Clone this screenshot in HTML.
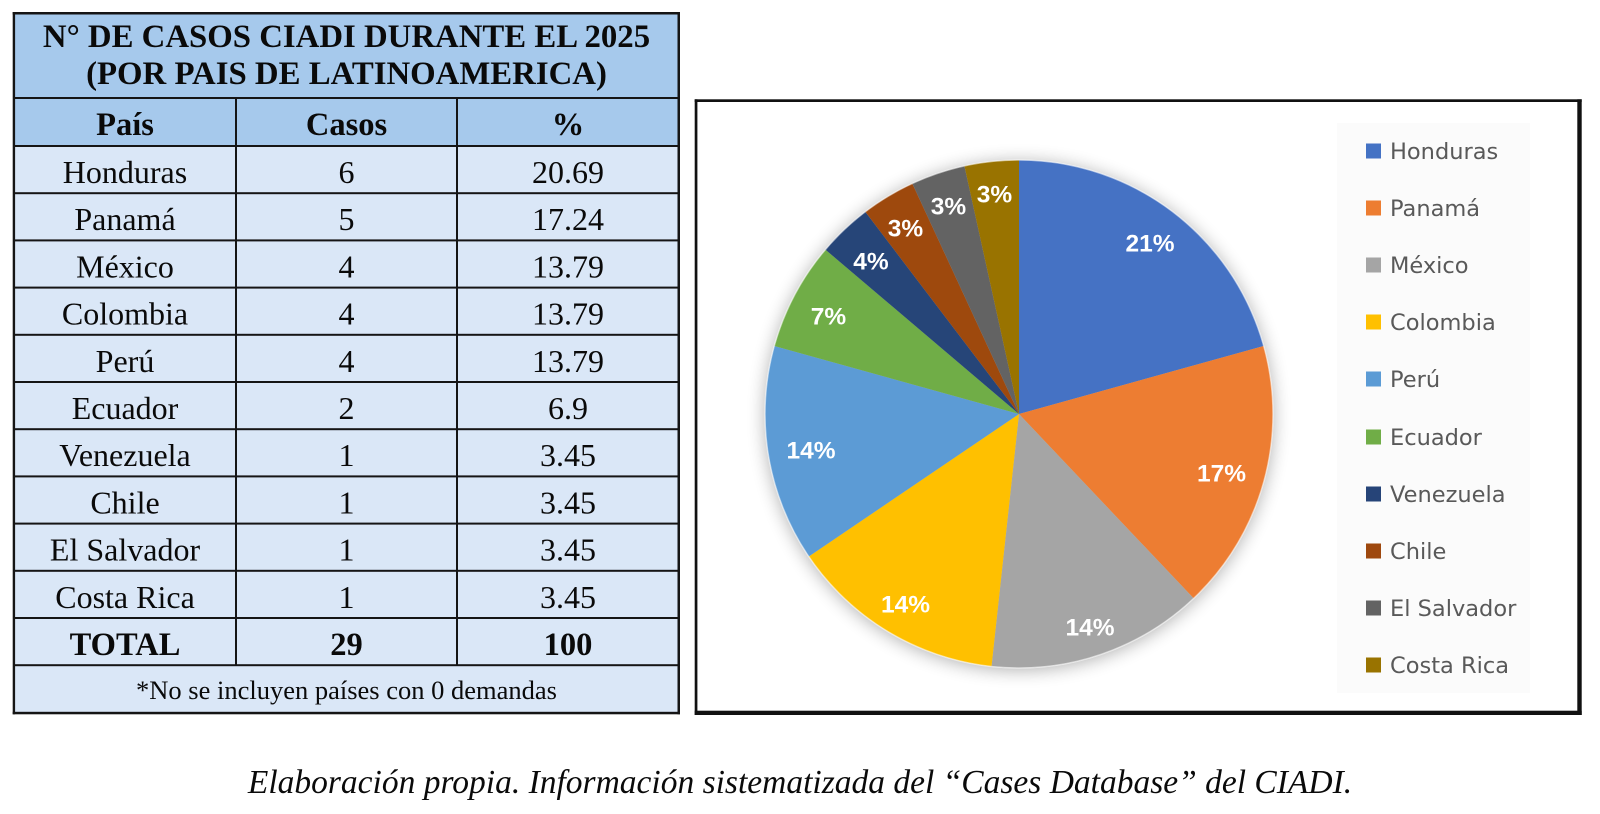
<!DOCTYPE html>
<html>
<head>
<meta charset="utf-8">
<style>
  html,body{margin:0;padding:0;background:#fff;}
  body{width:1600px;height:814px;overflow:hidden;}
  svg{display:block;}
  .serif{font-family:"Liberation Serif","Times New Roman",serif;}
  .sans{font-family:"Liberation Sans",Arial,sans-serif;}
  .leg{font-family:"DejaVu Sans","Liberation Sans",sans-serif;font-size:22.5px;fill:#595959;}
  .lbl{font-family:"Liberation Sans",Arial,sans-serif;font-weight:bold;font-size:24.5px;fill:#fff;}
</style>
</head>
<body>
<svg width="1600" height="814" viewBox="0 0 1600 814" xmlns="http://www.w3.org/2000/svg">
  <defs>
    <filter id="sh" x="-20%" y="-20%" width="140%" height="140%">
      <feGaussianBlur in="SourceAlpha" stdDeviation="9"/>
      <feOffset dx="0" dy="2" result="b"/>
      <feComponentTransfer><feFuncA type="linear" slope="0.32"/></feComponentTransfer>
      <feMerge><feMergeNode/><feMergeNode in="SourceGraphic"/></feMerge>
    </filter>
  </defs>
  <rect x="0" y="0" width="1600" height="814" fill="#fff"/>

  <!-- ===== TABLE ===== -->
  <rect x="14" y="13" width="665" height="133" fill="#A6C9EC"/>
  <rect x="14" y="146" width="665" height="567" fill="#DAE7F7"/>

  <g fill="#151515">
    <rect x="12.7" y="12" width="667.3" height="2.5"/>
    <rect x="12.7" y="12" width="2.4" height="702.3"/>
    <rect x="677.5" y="12" width="2.5" height="702.3"/>
    <rect x="12.7" y="711.8" width="667.3" height="2.5"/>
    <rect x="13" y="97" width="666" height="2"/>
    <rect x="13" y="145" width="666" height="2"/>
    <rect x="13" y="192.2" width="666" height="2"/>
    <rect x="13" y="239.4" width="666" height="2"/>
    <rect x="13" y="286.6" width="666" height="2"/>
    <rect x="13" y="333.8" width="666" height="2"/>
    <rect x="13" y="381" width="666" height="2"/>
    <rect x="13" y="428.2" width="666" height="2"/>
    <rect x="13" y="475.4" width="666" height="2"/>
    <rect x="13" y="522.6" width="666" height="2"/>
    <rect x="13" y="569.8" width="666" height="2"/>
    <rect x="13" y="617" width="666" height="2"/>
    <rect x="13" y="664.2" width="666" height="2"/>
    <rect x="235" y="98" width="2" height="567.2"/>
    <rect x="456" y="98" width="2" height="567.2"/>
  </g>

  <g class="serif" fill="#0a0a0a" text-anchor="middle">
    <text x="346.5" y="47" font-size="32.8" font-weight="bold">N° DE CASOS CIADI DURANTE EL 2025</text>
    <text x="346.5" y="84" font-size="32.8" font-weight="bold">(POR PAIS DE LATINOAMERICA)</text>

    <text x="125" y="135" font-size="32.5" font-weight="bold">País</text>
    <text x="346.5" y="135" font-size="32.5" font-weight="bold">Casos</text>
    <text x="568" y="135" font-size="32.5" font-weight="bold">%</text>

    <g font-size="32">
      <text x="125" y="183">Honduras</text><text x="346.5" y="183">6</text><text x="568" y="183">20.69</text>
      <text x="125" y="230.2">Panamá</text><text x="346.5" y="230.2">5</text><text x="568" y="230.2">17.24</text>
      <text x="125" y="277.4">México</text><text x="346.5" y="277.4">4</text><text x="568" y="277.4">13.79</text>
      <text x="125" y="324.6">Colombia</text><text x="346.5" y="324.6">4</text><text x="568" y="324.6">13.79</text>
      <text x="125" y="371.8">Perú</text><text x="346.5" y="371.8">4</text><text x="568" y="371.8">13.79</text>
      <text x="125" y="419">Ecuador</text><text x="346.5" y="419">2</text><text x="568" y="419">6.9</text>
      <text x="125" y="466.2">Venezuela</text><text x="346.5" y="466.2">1</text><text x="568" y="466.2">3.45</text>
      <text x="125" y="513.4">Chile</text><text x="346.5" y="513.4">1</text><text x="568" y="513.4">3.45</text>
      <text x="125" y="560.6">El Salvador</text><text x="346.5" y="560.6">1</text><text x="568" y="560.6">3.45</text>
      <text x="125" y="607.8">Costa Rica</text><text x="346.5" y="607.8">1</text><text x="568" y="607.8">3.45</text>
    </g>

    <text x="125" y="655" font-size="32.5" font-weight="bold">TOTAL</text>
    <text x="346.5" y="655" font-size="32.5" font-weight="bold">29</text>
    <text x="568" y="655" font-size="32.5" font-weight="bold">100</text>

    <text x="346.5" y="699" font-size="26.5">*No se incluyen países con 0 demandas</text>
  </g>

  <!-- ===== CHART FRAME ===== -->
  <g fill="#111">
    <rect x="694.7" y="99.3" width="887" height="2.7"/>
    <rect x="694.7" y="99.3" width="2.7" height="615.7"/>
    <rect x="1577.3" y="99.3" width="4.4" height="615.7"/>
    <rect x="694.7" y="710.7" width="887" height="4.3"/>
  </g>

  <rect x="1337" y="123" width="193" height="570" fill="#fbfbfb"/>

  <!-- ===== PIE ===== -->
  <g filter="url(#sh)">
    <path d="M1019,414 L1019,160 A254,254 0 0,1 1263.7,346 Z" fill="#4472C4"/>
    <path d="M1019,414 L1263.7,346 A254,254 0 0,1 1193.7,598.4 Z" fill="#ED7D31"/>
    <path d="M1019,414 L1193.7,598.4 A254,254 0 0,1 991.5,666.5 Z" fill="#A5A5A5"/>
    <path d="M1019,414 L991.5,666.5 A254,254 0 0,1 808.8,556.5 Z" fill="#FFC000"/>
    <path d="M1019,414 L808.8,556.5 A254,254 0 0,1 774.3,346 Z" fill="#5B9BD5"/>
    <path d="M1019,414 L774.3,346 A254,254 0 0,1 825.4,249.6 Z" fill="#70AD47"/>
    <path d="M1019,414 L825.4,249.6 A254,254 0 0,1 865.3,211.8 Z" fill="#264478"/>
    <path d="M1019,414 L865.3,211.8 A254,254 0 0,1 912.3,183.5 Z" fill="#9E480E"/>
    <path d="M1019,414 L912.3,183.5 A254,254 0 0,1 964.4,165.9 Z" fill="#636363"/>
    <path d="M1019,414 L964.4,165.9 A254,254 0 0,1 1019,160 Z" fill="#997300"/>
  </g>
  <circle cx="1019" cy="414" r="254" fill="none" stroke="#ffffff" stroke-opacity="0.55" stroke-width="1.5"/>

  <g class="lbl" text-anchor="middle">
    <text x="1150" y="251.6">21%</text>
    <text x="1221.5" y="481.3">17%</text>
    <text x="1090" y="635.6">14%</text>
    <text x="905.5" y="612.6">14%</text>
    <text x="811" y="458.6">14%</text>
    <text x="828.5" y="324.3">7%</text>
    <text x="871" y="269.3">4%</text>
    <text x="905.5" y="236.3">3%</text>
    <text x="948.5" y="214.3">3%</text>
    <text x="994.5" y="202.6">3%</text>
  </g>

  <!-- ===== LEGEND ===== -->
  <g>
    <rect x="1366" y="143.5" width="15" height="15" fill="#4472C4"/>
    <rect x="1366" y="200.5" width="15" height="15" fill="#ED7D31"/>
    <rect x="1366" y="257.5" width="15" height="15" fill="#A5A5A5"/>
    <rect x="1366" y="314.5" width="15" height="15" fill="#FFC000"/>
    <rect x="1366" y="371.5" width="15" height="15" fill="#5B9BD5"/>
    <rect x="1366" y="429.5" width="15" height="15" fill="#70AD47"/>
    <rect x="1366" y="486.5" width="15" height="15" fill="#264478"/>
    <rect x="1366" y="543.5" width="15" height="15" fill="#9E480E"/>
    <rect x="1366" y="600.5" width="15" height="15" fill="#636363"/>
    <rect x="1366" y="657.5" width="15" height="15" fill="#997300"/>
  </g>
  <g class="leg">
    <text x="1390" y="159.2">Honduras</text>
    <text x="1390" y="216.2">Panamá</text>
    <text x="1390" y="273.2">México</text>
    <text x="1390" y="330.2">Colombia</text>
    <text x="1390" y="387.2">Perú</text>
    <text x="1390" y="445.2">Ecuador</text>
    <text x="1390" y="502.2">Venezuela</text>
    <text x="1390" y="559.2">Chile</text>
    <text x="1390" y="616.2">El Salvador</text>
    <text x="1390" y="673.2">Costa Rica</text>
  </g>

  <!-- ===== CAPTION ===== -->
  <text class="serif" x="800" y="793" font-size="33.5" font-style="italic" fill="#0a0a0a" text-anchor="middle">Elaboración propia. Información sistematizada del “Cases Database” del CIADI.</text>
</svg>
</body>
</html>
